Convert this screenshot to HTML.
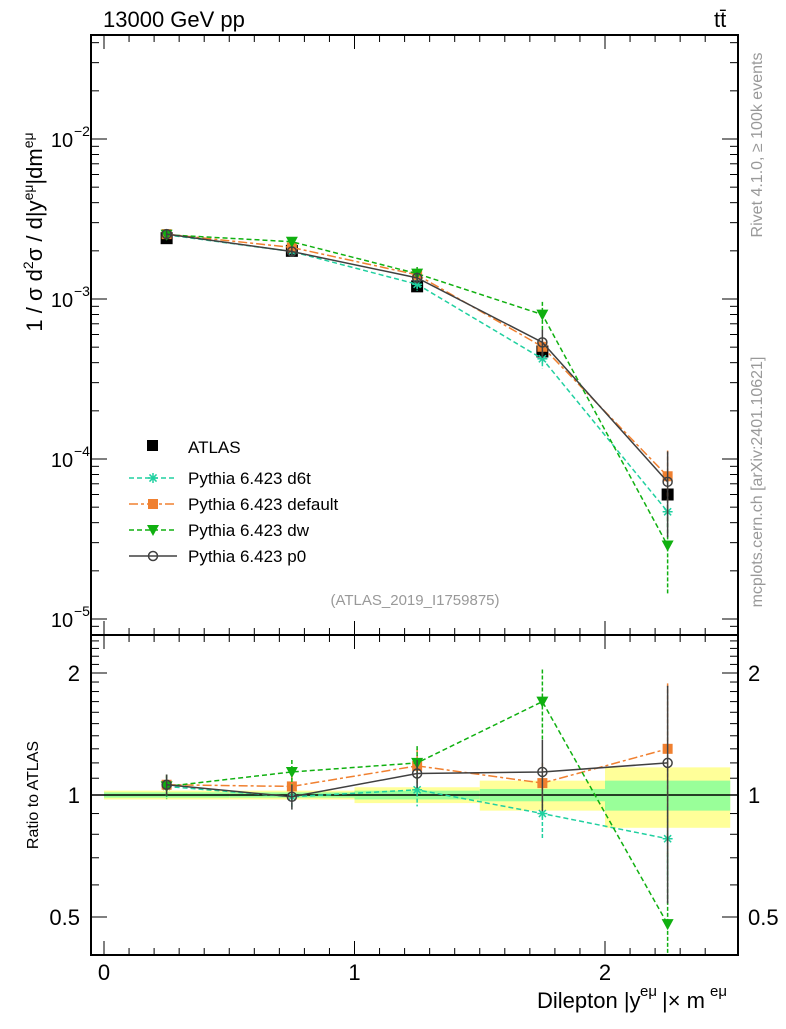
<!DOCTYPE html>
<html><head><meta charset="utf-8"><style>
body{margin:0;background:#fff}
svg{font-family:"Liberation Sans",sans-serif}
</style></head><body>
<svg id="c" width="786" height="1024" xmlns="http://www.w3.org/2000/svg"></svg>
<script>
const xCenters=[0.25,0.75,1.25,1.75,2.25];
const binEdges=[0,0.5,1,1.5,2,2.5];
const atlasVals=[2.4e-3,2.0e-3,1.2e-3,4.7e-4,6.0e-5];
const bandInner=[0.015,0.015,0.025,0.035,0.085];
const bandOuter=[0.025,0.025,0.045,0.085,0.17];
const d6tRatio=[1.05,0.99,1.03,0.90,0.78];
const defRatio=[1.06,1.05,1.18,1.07,1.30];
const dwRatio=[1.05,1.14,1.20,1.70,0.48];
const p0Ratio=[1.06,0.99,1.13,1.14,1.20];
const d6tErr=[0.06,0.07,0.09,0.13,0.2];
const defErr=[0.06,0.06,0.1,0.12,0.45];
const dwErr=[0.07,0.07,0.1,0.2,0.5];
const p0Err=[0.06,0.07,0.08,0.2,0.55];
const mainTicks=[-2,-3,-4,-5];
const ratioTicks=[0.5,1,2];
const xTicks=[0,1,2];

const NS="http://www.w3.org/2000/svg";
const svg=document.getElementById('c');
const L=91,R=738,T=35,MB=635,RB=955;
const X=v=>104+v*250.5;
const YM=v=>139-(Math.log10(v)+2)*160;
const YR=v=>795-Math.log2(v)*122;
function el(t,a,p){const e=document.createElementNS(NS,t);for(const k in a)e.setAttribute(k,a[k]);(p||svg).appendChild(e);return e;}
function txt(s,a,p){const e=el('text',a,p);e.textContent=s;return e;}

const bands=el('g',{});


for(let i=0;i<5;i++){
 const x1=X(binEdges[i]),x2=X(binEdges[i+1]);
 el('rect',{x:x1,y:YR(1+bandOuter[i]),width:x2-x1,height:YR(1-bandOuter[i])-YR(1+bandOuter[i]),fill:'#ffff99'},bands);
 el('rect',{x:x1,y:YR(1+bandInner[i]),width:x2-x1,height:YR(1-bandInner[i])-YR(1+bandInner[i]),fill:'#99ff99'},bands);
}
el('line',{x1:L,x2:R,y1:YR(1),y2:YR(1),stroke:'#000','stroke-width':1.5});

el('rect',{x:L,y:T,width:R-L,height:MB-T,fill:'none',stroke:'#000','stroke-width':2});
el('rect',{x:L,y:MB,width:R-L,height:RB-MB,fill:'none',stroke:'#000','stroke-width':2});

for(let v=0;v<=2.5;v+=0.1){
 const x=X(v),maj=Math.abs(v-Math.round(v))<1e-6;const len=maj?14:7;
 [MB,RB].forEach(yb=>{el('line',{x1:x,x2:x,y1:yb,y2:yb-len,stroke:'#000'});});
 el('line',{x1:x,x2:x,y1:T,y2:T+len,stroke:'#000'});
 el('line',{x1:x,x2:x,y1:MB,y2:MB+len,stroke:'#000'});
}
xTicks.forEach(v=>{const t=txt(String(v),{x:X(v),y:980,'font-size':22,'text-anchor':'middle'});
});

for(let d=-6;d<=-1;d++){for(let m=1;m<10;m++){const v=m*Math.pow(10,d);const y=YM(v);if(y<T||y>MB)continue;
 const len=m==1?16:8;el('line',{x1:L,x2:L+len,y1:y,y2:y,stroke:'#000'});el('line',{x1:R,x2:R-len,y1:y,y2:y,stroke:'#000'});}}
mainTicks.forEach(d=>{const y=YM(Math.pow(10,d));const t=txt('10',{x:62,y:y+8,'font-size':20,'text-anchor':'middle'});
 
 txt(String(d).replace('-','−'),{x:74,y:y-3,'font-size':14});});

for(let v=0.4;v<=2.5;v+=0.1){const y=YR(v);if(y<MB||y>RB)continue;
 const maj=ratioTicks.some(r=>Math.abs(r-v)<1e-6);const len=maj?16:8;
 el('line',{x1:L,x2:L+len,y1:y,y2:y,stroke:'#000'});el('line',{x1:R,x2:R-len,y1:y,y2:y,stroke:'#000'});}
ratioTicks.forEach(v=>{const y=YR(v)+8;
 const a=txt(String(v),{x:80,y:y,'font-size':22,'text-anchor':'end'});
 txt(String(v),{x:748,y:y,'font-size':22});});

const series=[
 {n:'d6t',r:d6tRatio,e:d6tErr,c:'#20d0a0',dash:'5,3',m:'star'},
 {n:'default',r:defRatio,e:defErr,c:'#f08030',dash:'9,3,3,3',m:'sq'},
 {n:'dw',r:dwRatio,e:dwErr,c:'#10b010',dash:'5,3',m:'tri'},
 {n:'p0',r:p0Ratio,e:p0Err,c:'#404040',dash:'',m:'circ'}];
function marker(m,x,y,c,g){
 if(m=='sq')el('rect',{x:x-5,y:y-5,width:10,height:10,fill:c},g);
 else if(m=='tri')el('path',{d:`M${x-6},${y-5}L${x+6},${y-5}L${x},${y+6}Z`,fill:c},g);
 else if(m=='circ')el('circle',{cx:x,cy:y,r:4.5,fill:'none',stroke:c,'stroke-width':1.5},g);
 else{for(let a=0;a<4;a++){const an=a*Math.PI/4;el('line',{x1:x-5*Math.cos(an),y1:y-5*Math.sin(an),x2:x+5*Math.cos(an),y2:y+5*Math.sin(an),stroke:c,'stroke-width':1.5},g);}}
}
const ag=el('g',{});
xCenters.forEach((x,i)=>el('rect',{x:X(x)-6,y:YM(atlasVals[i])-6,width:12,height:12,fill:'#000'},ag));
series.forEach(s=>{
 const g=el('g',{});
 const pm=xCenters.map((x,i)=>X(x)+','+YM(atlasVals[i]*s.r[i])).join(' ');
 const pr=xCenters.map((x,i)=>X(x)+','+YR(s.r[i])).join(' ');
 const la={fill:'none',stroke:s.c,'stroke-width':1.5};if(s.dash)la['stroke-dasharray']=s.dash;
 el('polyline',Object.assign({points:pm},la),g);el('polyline',Object.assign({points:pr},la),g);
 xCenters.forEach((x,i)=>{const v=atlasVals[i]*s.r[i],er=s.e[i];
  const ea={stroke:s.c,'stroke-width':1.5};if(s.dash)ea['stroke-dasharray']='4,2';
  const lo=Math.max(1-er,0.1);
  el('line',Object.assign({x1:X(x),x2:X(x),y1:YM(v*(1+er)),y2:Math.min(YM(v*lo),MB)},ea),g);
  el('line',Object.assign({x1:X(x),x2:X(x),y1:YR(s.r[i]*(1+er)),y2:Math.min(YR(s.r[i]*lo),RB)},ea),g);
  marker(s.m,X(x),YM(v),s.c,g);marker(s.m,X(x),YR(s.r[i]),s.c,g);});
});

const lg=el('g',{});
el('rect',{x:147,y:440,width:11,height:11,fill:'#000'},lg);
txt('ATLAS',{x:188,y:453,'font-size':17},lg);
series.forEach((s,i)=>{const y=478+i*26;
 const la={x1:129,x2:177,y1:y,y2:y,stroke:s.c,'stroke-width':1.5};if(s.dash)la['stroke-dasharray']=s.dash;
 el('line',la,lg);marker(s.m,153,y,s.c,lg);
 txt('Pythia 6.423 '+s.n,{x:188,y:y+6,'font-size':17},lg);});

txt('13000 GeV pp',{x:103,y:27,'font-size':22});
txt('tt̄',{x:714,y:27,'font-size':22});
txt('(ATLAS_2019_I1759875)',{x:415,y:605,'font-size':15,fill:'#999','text-anchor':'middle'});
txt('Dilepton |y',{x:537,y:1008,'font-size':22});
txt('eμ',{x:640,y:996,'font-size':15});
txt('|× m',{x:662,y:1008,'font-size':22});
txt('eμ',{x:710,y:996,'font-size':15});
const yt=el('text',{transform:'translate(42,232) rotate(-90)','font-size':22,'text-anchor':'middle'});
[['1 / σ  d',0],['2',1],['σ / d|y',0],['eμ',1],['|dm',0],['eμ',1]].forEach(p=>{const ts=document.createElementNS(NS,'tspan');ts.textContent=p[0];
 if(p[1]){ts.setAttribute('font-size','14');ts.setAttribute('dy','-9');}else if(yt.lastChild&&yt.lastChild.getAttribute&&yt.lastChild.getAttribute('dy')=='-9'){ts.setAttribute('dy','9');}
 yt.appendChild(ts);});


txt('Ratio to ATLAS',{transform:'translate(38,795) rotate(-90)','font-size':16,'text-anchor':'middle'});
txt('Rivet 4.1.0, ≥ 100k events',{transform:'translate(762,145) rotate(-90)','font-size':16,fill:'#999','text-anchor':'middle'});
txt('mcplots.cern.ch [arXiv:2401.10621]',{transform:'translate(762,482) rotate(-90)','font-size':16,fill:'#999','text-anchor':'middle'});
</script>
</body></html>
